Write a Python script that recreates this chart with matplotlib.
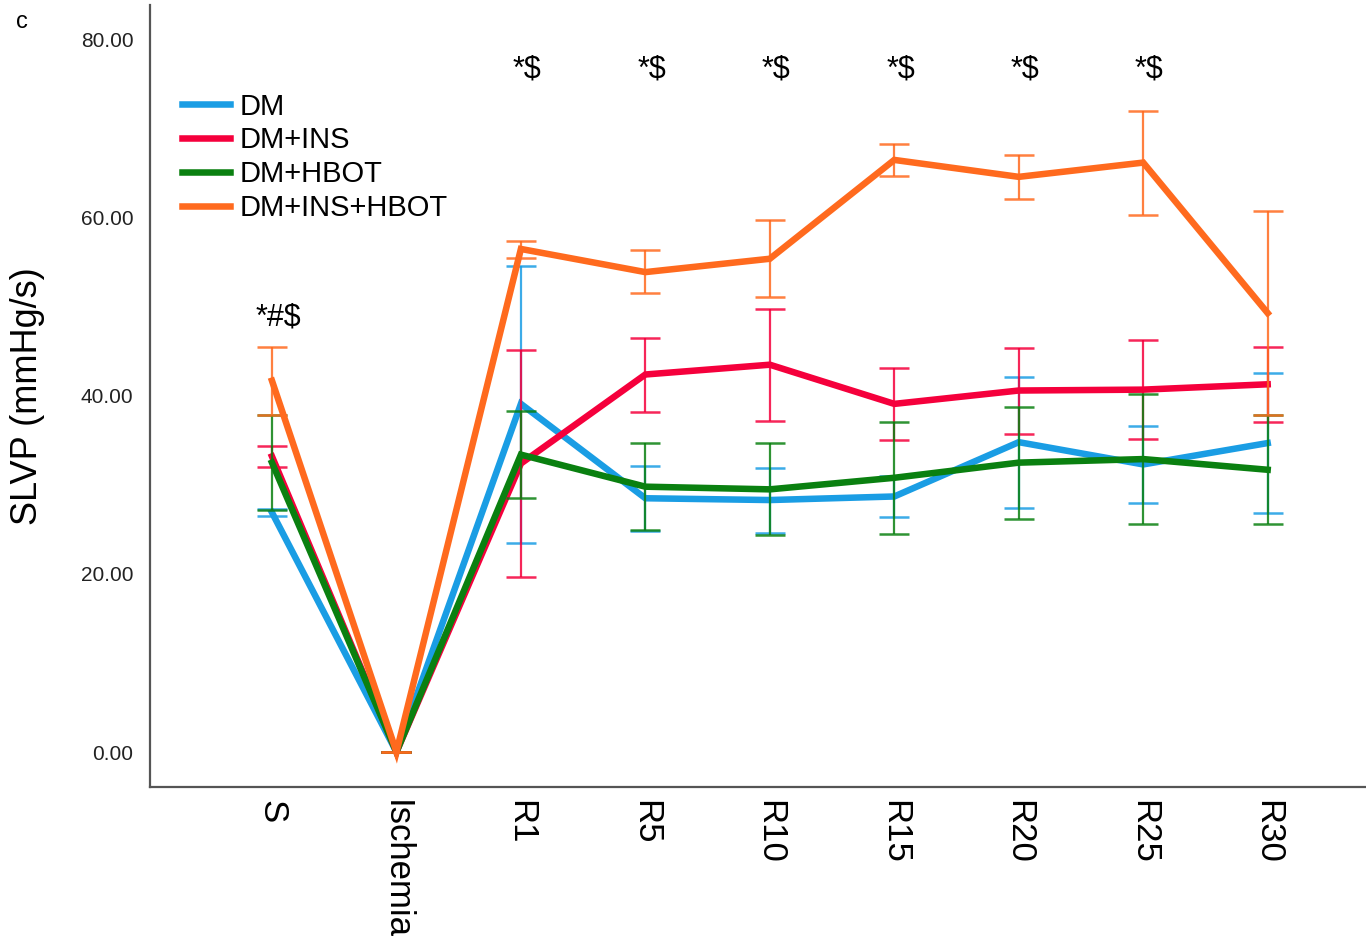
import numpy as np
import matplotlib
matplotlib.use("Agg")
import matplotlib.pyplot as plt

plt.rcParams['font.family'] = ['Liberation Sans', 'DejaVu Sans']

times = ["S", "Ischemia", "R1", "R5", "R10", "R15", "R20", "R25", "R30"]

# means and error bar limits
dm_mean = [26.9, 0.0, 39.1, 28.5, 28.3, 28.7, 34.8, 32.3, 34.7]
dm_low = [26.5, 0.0, 23.5, 24.8, 24.6, 26.4, 27.4, 28.0, 26.8]
dm_high = [27.3, 0.0, 54.6, 32.1, 31.9, 31.0, 42.1, 36.6, 42.6]

ins_mean = [33.2, 0.0, 32.4, 42.4, 43.5, 39.1, 40.6, 40.7, 41.3]
ins_low = [32.0, 0.0, 19.7, 38.2, 37.2, 35.0, 35.7, 35.2, 37.1]
ins_high = [34.4, 0.0, 45.1, 46.5, 49.8, 43.1, 45.4, 46.3, 45.5]

hbot_mean = [32.5, 0.0, 33.4, 29.8, 29.5, 30.8, 32.5, 32.9, 31.7]
hbot_low = [27.2, 0.0, 28.5, 24.9, 24.4, 24.5, 26.2, 25.6, 25.6]
hbot_high = [37.8, 0.0, 38.3, 34.7, 34.7, 37.1, 38.8, 40.2, 37.9]

both_mean = [41.7, 0.0, 56.5, 53.9, 55.4, 66.5, 64.6, 66.2, 49.3]
both_low = [37.9, 0.0, 55.5, 51.5, 51.1, 64.7, 62.1, 60.3, 37.9]
both_high = [45.5, 0.0, 57.4, 56.4, 59.7, 68.3, 67.1, 72.0, 60.8]

groups = [
    ("DM", dm_mean, dm_low, dm_high, "#1a9de4"),
    ("DM+INS", ins_mean, ins_low, ins_high, "#f5003c"),
    ("DM+HBOT", hbot_mean, hbot_low, hbot_high, "#0a8010"),
    ("DM+INS+HBOT", both_mean, both_low, both_high, "#ff6a1e"),
]

sig_labels = ["*#$", "", "*$", "*$", "*$", "*$", "*$", "*$", ""]
sig_y = [48.8, None, 76.6, 76.6, 76.6, 76.6, 76.6, 76.6, None]

fig = plt.figure(figsize=(13.66, 9.43), dpi=100)
ax = fig.add_axes([150/1366, 156/943, 1216/1366, 782/943])

x = np.arange(len(times))
for name, m, lo, hi, c in groups:
    m = np.array(m)
    err = [m - np.array(lo), np.array(hi) - m]
    ax.errorbar(x, m, yerr=err, fmt='none', ecolor=c, elinewidth=1.6,
                capsize=11, capthick=1.8, alpha=0.85)
    ax.plot(x, m, color=c, lw=4.7, label=name, solid_joinstyle='miter')

for i, (s, yy) in enumerate(zip(sig_labels, sig_y)):
    if s:
        ax.text(i + 0.05, yy, s, ha='center', va='center', fontsize=22)

ax.set_xlim(-0.98, 8.79)
ax.set_ylim(-3.93, 83.9)
ax.set_xticks(x)
ax.set_xticklabels(times, rotation=270, fontsize=25, va='top', ha='center')
ax.set_yticks([0, 20, 40, 60, 80])
ax.set_yticklabels(["0.00", "20.00", "40.00", "60.00", "80.00"], fontsize=15,
                   color="#222222")
ax.tick_params(axis='both', length=0)
ax.tick_params(axis='y', pad=12)
ax.tick_params(axis='x', pad=9)
ax.set_ylabel("SLVP (mmHg/s)", fontsize=26)
ax.yaxis.set_label_coords(-0.086, 0.5)

for s in ['top', 'right']:
    ax.spines[s].set_visible(False)
for s in ['left', 'bottom']:
    ax.spines[s].set_color("#555555")
    ax.spines[s].set_linewidth(1.6)

ax.legend(loc='upper left', bbox_to_anchor=(0.017, 0.903), frameon=False,
          fontsize=21, handlelength=1.65, handletextpad=0.3, labelspacing=0.2,
          borderaxespad=0)

fig.text(22/1366, 1 - 22/943, "c", fontsize=17, ha='center', va='center')

fig.savefig("out.png", dpi=100)
